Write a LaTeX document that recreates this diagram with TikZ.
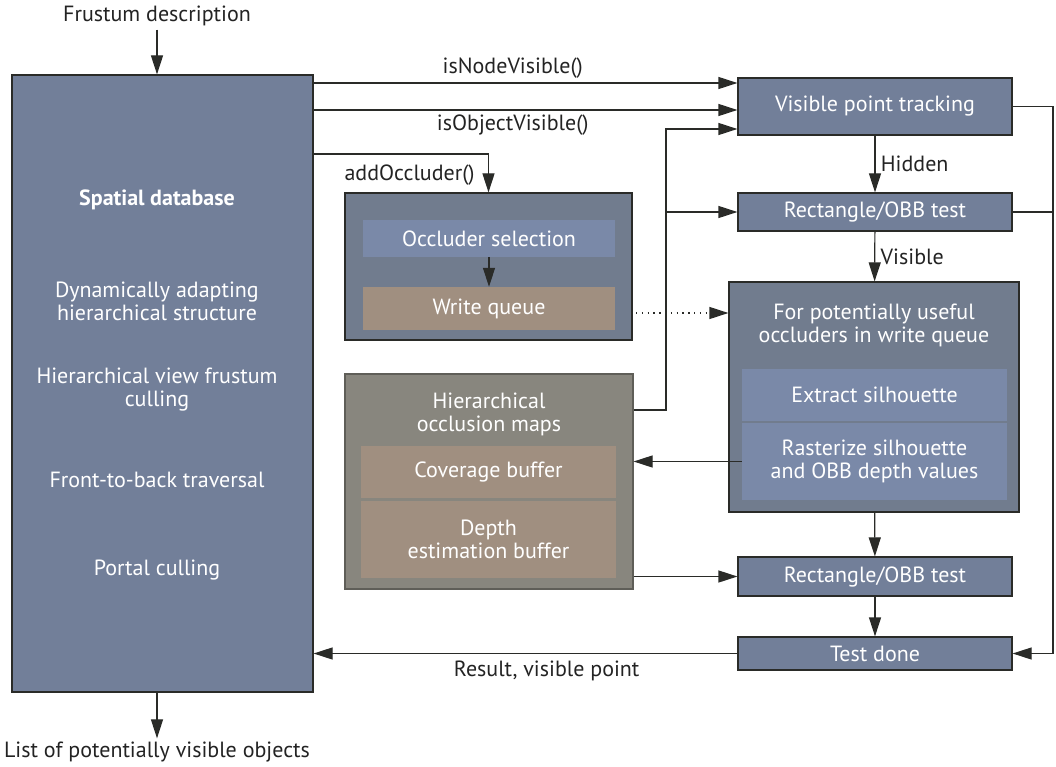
\documentclass[tikz,border=0pt]{standalone}
\usepackage{fontspec}
\setmainfont{PT Sans}
\usetikzlibrary{arrows.meta}

\definecolor{dbblue}{RGB}{114,127,153}
\definecolor{grpblue}{RGB}{113,124,142}
\definecolor{lightblue}{RGB}{122,137,168}
\definecolor{tan}{RGB}{160,143,128}
\definecolor{homgray}{RGB}{136,134,126}
\definecolor{linec}{RGB}{42,43,40}
\definecolor{textc}{RGB}{35,35,35}

\begin{document}
\begin{tikzpicture}[x=1pt,y=-1pt,
    font=\fontsize{22}{23}\selectfont, text=textc,
    blk/.style={draw=linec, line width=1.2pt, fill=dbblue, text=white, inner sep=0pt, align=center},
    inbox/.style={fill=lightblue, text=white, inner sep=0pt, align=center},
    tanbox/.style={fill=tan, text=white, inner sep=0pt, align=center},
    wtext/.style={text=white, align=center},
    arr/.style={draw=linec, line width=1.2pt, -{Triangle[length=19pt,width=12pt]}},
    wire/.style={draw=linec, line width=1.2pt}]

    \useasboundingbox (0,0) rectangle (1056,767);

    % spatial database column
    \node[blk, minimum width=301pt, minimum height=617pt] (db) at (162.5,383.5) {};
    \node[wtext, font=\fontsize{22}{23}\selectfont\bfseries] (dbtitle) at (157,200) {Spatial database};
    \node[wtext] (dbadapt) at (157,301) {Dynamically adapting\\hierarchical structure};
    \node[wtext] (dbview) at (157,390) {Hierarchical view frustum\\culling};
    \node[wtext] (dbfront) at (157,480) {Front-to-back traversal};
    \node[wtext] (dbportal) at (157,570) {Portal culling};
    \node (frust) at (157,16) {Frustum description};
    \node (pvs) at (157,752) {List of potentially visible objects};

    % occluder selection group
    \node[blk, fill=grpblue, minimum width=287pt, minimum height=147pt] (occgrp) at (488.5,266.5) {};
    \node[inbox, minimum width=252pt, minimum height=37pt] (occsel) at (489,238.5) {Occluder selection};
    \node[tanbox, minimum width=252pt, minimum height=43pt] (wq) at (489,308.5) {Write queue};

    % hierarchical occlusion maps
    \node[blk, draw=homgray!70!black, fill=homgray, minimum width=288pt, minimum height=215pt] (hom) at (489,481.5) {};
    \node[wtext] (homtitle) at (489,414) {Hierarchical\\occlusion maps};
    \node[tanbox, minimum width=255pt, minimum height=52pt] (cov) at (488.5,472) {Coverage buffer};
    \node[tanbox, minimum width=255pt, minimum height=77pt] (depth) at (488.5,539.5) {Depth\\estimation buffer};

    % right column
    \node[blk, minimum width=274pt, minimum height=57pt] (vpt) at (875,106.5) {Visible point tracking};
    \node[blk, minimum width=274pt, minimum height=38pt] (rect1) at (875,212) {Rectangle/OBB test};
    \node[blk, fill=grpblue, minimum width=290pt, minimum height=230pt] (useful) at (874,397) {};
    \node[wtext] (usetitle) at (874,325) {For potentially useful\\occluders in write queue};
    \node[inbox, minimum width=265pt, minimum height=52pt] (extract) at (874.5,395) {Extract silhouette};
    \node[inbox, minimum width=265pt, minimum height=77pt] (raster) at (874.5,461.5) {Rasterize silhouette\\and OBB depth values};
    \node[blk, minimum width=274pt, minimum height=39pt] (rect2) at (875,576.5) {Rectangle/OBB test};
    \node[blk, minimum width=274pt, minimum height=33pt] (done) at (875,653.5) {Test done};

    \coordinate (jn) at (666,212);
    \coordinate (loop) at (1053,212);
    \coordinate (nodein) at ([yshift=23.5pt]vpt.west);
    \coordinate (objin) at ([yshift=-3.5pt]vpt.west);
    \coordinate (homin) at ([yshift=-22.5pt]vpt.west);
    \coordinate (homout) at ([yshift=71.5pt]hom.east);
    \coordinate (occout) at (db.east |- 0,154);
    \coordinate (dotout) at (636,313);
    \coordinate (dotin) at (useful.west |- dotout);

    % connectors
    \draw[arr] (frust.south) -- (frust.south |- db.north);
    \draw[arr] (db.south -| pvs) -- (pvs.north);
    \draw[arr] (db.east |- nodein) -- node[above=1pt, pos=0.47] {isNodeVisible()} (nodein);
    \draw[arr] (db.east |- objin) -- node[below=1pt, pos=0.47] {isObjectVisible()} (objin);
    \draw[arr] (occout) -| node[pos=0.78, left=10pt] {addOccluder()} (occgrp.north);
    \draw[arr] (homout) -| (jn) |- (homin);
    \draw[arr] (jn) -- (rect1.west);
    \draw[arr] (occsel) -- (wq);
    \draw[arr, dash pattern=on 1.3pt off 4.5pt] (dotout) -- (dotin);
    \draw[arr] (vpt) -- node[right=2pt] {Hidden} (rect1);
    \draw[arr] (rect1) -- node[right=2pt] {Visible} (useful);
    \draw[arr] (raster.west) -- (hom.east |- raster.west);
    \draw[arr] (useful) -- (rect2);
    \draw[arr] (hom.east |- rect2.west) -- (rect2.west);
    \draw[arr] (rect2) -- (done);
    \draw[arr] (done.west) -- node[below=3pt, pos=0.45] {Result, visible point} (db.east |- done.west);
    \draw[arr] (vpt.east) -| (loop |- done.east) -- (done.east);
    \draw[wire] (rect1.east) -- (loop);
\end{tikzpicture}
\end{document}
